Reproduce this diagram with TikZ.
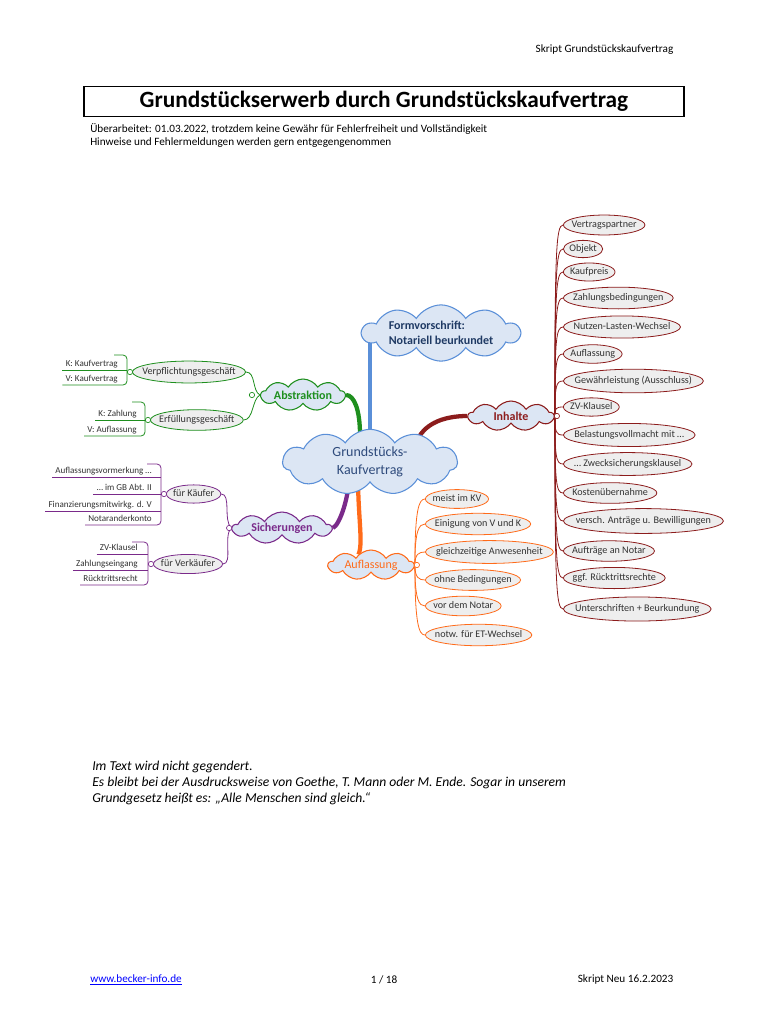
\documentclass[tikz,border=0pt]{standalone}
\usepackage{fontspec}
\setmainfont{Carlito}
\usetikzlibrary{shapes.geometric, shapes.symbols, positioning, calc, backgrounds}

\definecolor{cloudfill}{HTML}{DCE6F4}
\definecolor{leaffill}{HTML}{EEEEEE}
\definecolor{mmblue}{HTML}{5A8FD8}
\definecolor{mmnavy}{HTML}{1F3A64}
\definecolor{mmslate}{HTML}{2F4B7C}
\definecolor{mmgreen}{HTML}{1E8F1E}
\definecolor{mmred}{HTML}{8C1C1C}
\definecolor{mmpurple}{HTML}{7A2A8A}
\definecolor{mmorange}{HTML}{FF6B1A}
\definecolor{mmtext}{HTML}{333333}
\definecolor{linkblue}{HTML}{0000FF}

\newcommand\mmleaf[4]{%
  \path node[leaftxt] (#1m) {\phantom{#4}};
  \begin{scope}[on background layer]
    \path let \p1=($(#1m.east)-(#1m.west)$) in
      node[leafell=#2, anchor=west, minimum width={1.12*\x1+6pt}, minimum height={0.07*\x1+11.5pt}] (#1) at #3 {};
  \end{scope}
  \node[leaftxt] (#1t) at (#1) {#4};}

\begin{document}
\begin{tikzpicture}[
    x=0.75pt, y=-0.75pt,
    cloudy/.style={cloud, cloud puffs=9, cloud puff arc=115, cloud ignores aspect, draw=#1, text=#1, fill=cloudfill, line width=0.8pt, inner sep=0pt, font=\fontsize{9}{11}\selectfont\bfseries},
    leaftxt/.style={inner sep=0pt, text height=5.6pt, text depth=1.7pt, text=mmtext, font=\fontsize{7.6}{9}\selectfont},
    leafell/.style={ellipse, draw=#1, fill=leaffill, line width=0.6pt, inner sep=0pt},
    leaf/.style={anchor=south east, inner xsep=2.25pt, inner ysep=0.8pt, text depth=1.7pt, text=mmtext, font=\fontsize{6.8}{8}\selectfont},
    knob/.style={circle, draw=#1, fill=white, line width=0.5pt, inner sep=0pt, minimum size=4pt},
    branch/.style={draw=#1, line width=0.6pt},
    trunk/.style={draw=#1, line width=3.2pt},
]
\begin{scope}[on background layer]
\fill[white] (0,0) rectangle (768,1024);
\end{scope}
\useasboundingbox (0,0) rectangle (768,1024);

\node[anchor=east, font=\fontsize{8.4}{10}\selectfont] (head) at (678,50) {Skript Grundstückskaufvertrag};
\node[draw, line width=0.9pt, minimum width=450pt, minimum height=21.75pt, font=\fontsize{17.5}{20}\selectfont\bfseries] (title) at (384,101.5) {Grundstückserwerb durch Grundstückskaufvertrag};
\node[anchor=west, align=left, inner sep=0pt, font=\fontsize{8.4}{9.75}\selectfont] (note) at (90,135.5) {Überarbeitet: 01.03.2022, trotzdem keine Gewähr für Fehlerfreiheit und Vollständigkeit\\Hinweise und Fehlermeldungen werden gern entgegengenommen};

\node[cloudy=mmblue, text=mmslate, font=\fontsize{10.5}{13}\selectfont, align=center, cloud puffs=11, minimum width=131pt, minimum height=49pt] (kv) at (370,462) {Grundstücks-\\Kaufvertrag};
\node[cloudy=mmblue, text=mmnavy, align=left, cloud puffs=10, minimum width=118pt, minimum height=42pt] (form) at (441,333) {Formvorschrift:\\Notariell beurkundet};
\node[cloudy=mmgreen, minimum width=63pt, minimum height=24pt] (abs) at (303,395) {Abstraktion};
\node[cloudy=mmred, minimum width=64pt, minimum height=22.5pt] (inh) at (511,416) {Inhalte};
\node[cloudy=mmpurple, minimum width=74pt, minimum height=24pt] (sich) at (282,528) {Sicherungen};
\node[cloudy=mmorange, font=\fontsize{9}{11}\selectfont, minimum width=64pt, minimum height=22.5pt] (aufl) at (371,565) {Auflassung};

\begin{scope}[on background layer]
\draw[trunk=mmblue] (kv.north) -- (kv.north |- form.center);
\draw[trunk=mmgreen] ($(kv.north)+(-10,6)$) .. controls +(0,-25) and +(8,0) .. (abs.east);
\draw[trunk=mmred] ($(kv.north)+(48,10)$) .. controls +(8,-16) and +(-22,0) .. (inh.west);
\draw[trunk=mmpurple] ($(kv.south)+(-21,-6)$) .. controls +(0,20) and +(7,-3) .. (sich.east);
\draw[trunk=mmorange] ($(kv.south)+(-12,-6)$) .. controls +(0,40) and +(5,-10) .. (aufl.140);
\end{scope}

\mmleaf{vp}{mmgreen}{(132,372)}{Verpflichtungsgeschäft}
\mmleaf{ef}{mmgreen}{(150,420)}{Erfüllungsgeschäft}
\mmleaf{fk}{mmpurple}{(166,494)}{für Käufer}
\mmleaf{fv}{mmpurple}{(153,564)}{für Verkäufer}

\draw[branch=mmgreen] (abs.west) .. controls +(-8,-4) and +(10,0) .. (vp.east);
\draw[branch=mmgreen] (abs.west) .. controls +(-8,4) and +(10,0) .. (ef.east);
\draw[branch=mmpurple] (sich.west) .. controls +(-8,-8) and +(10,0) .. (fk.east);
\draw[branch=mmpurple] (sich.west) .. controls +(-8,8) and +(10,0) .. (fv.east);

\node[knob=mmgreen] (absk) at ($(abs.west)+(-8,0)$) {};
\node[knob=mmpurple] (sichk) at ($(sich.west)+(-2,0)$) {};
\node[knob=mmgreen] (vpk) at ($(vp.west)+(-2,0)$) {};
\node[knob=mmgreen] (efk) at ($(ef.west)+(-2,0)$) {};
\node[knob=mmpurple] (fkk) at ($(fk.west)+(-2,0)$) {};
\node[knob=mmpurple] (fvk) at ($(fv.west)+(-2,0)$) {};

\foreach \nm/\yy/\tx in {vpa/370/K: Kaufvertrag, vpb/385/V: Kaufvertrag}
  \node[leaf] (\nm) at (121,\yy) {\tx};
\draw[branch=mmgreen, rounded corners=3] (114,355) -| (vpk.west) |- (vpb.south west);
\draw[branch=mmgreen] (vpa.south west) -- (vpa.south -| vpk.west);

\foreach \nm/\yy/\tx in {efa/420/K: Zahlung, efb/436/V: Auflassung}
  \node[leaf] (\nm) at (140,\yy) {\tx};
\draw[branch=mmgreen, rounded corners=3] (132,402) -| (efk.west) |- (efb.south west);
\draw[branch=mmgreen] (efa.south west) -- (efa.south -| efk.west);

\foreach \nm/\yy/\tx in {fka/477/Auflassungsvormerkung …, fkb/494/… im GB Abt. II, fkc/511/Finanzierungsmitwirkg. d. V, fkd/525/Notaranderkonto}
  \node[leaf] (\nm) at (155,\yy) {\tx};
\draw[branch=mmpurple, rounded corners=3] (147,464) -| (fkk.west) |- (fkd.south west);
\foreach \nm in {fka,fkb,fkc}
  \draw[branch=mmpurple] (\nm.south west) -- (\nm.south -| fkk.west);

\foreach \nm/\yy/\tx in {fva/554/ZV-Klausel, fvb/570/Zahlungseingang, fvc/585/Rücktrittsrecht}
  \node[leaf] (\nm) at (141,\yy) {\tx};
\draw[branch=mmpurple, rounded corners=3] (132,542) -| (fvk.west) |- (fvc.south west);
\foreach \nm in {fva,fvb}
  \draw[branch=mmpurple] (\nm.south west) -- (\nm.south -| fvk.west);

\foreach \nm/\yy/\tx [evaluate=\yy as \dy using 0.85*(\yy-416)] in {i1/225/Vertragspartner, i2/249/Objekt, i3/272/Kaufpreis, i4/298/Zahlungsbedingungen, i5/327/Nutzen-Lasten-Wechsel, i6/354/Auflassung, i7/381/Gewährleistung (Ausschluss), i8/407/ZV-Klausel, i9/435/Belastungsvollmacht mit …, i10/464/… Zwecksicherungsklausel, i11/493/Kostenübernahme, i12/521/versch. Anträge u. Bewilligungen, i13/551/Aufträge an Notar, i14/578/ggf. Rücktrittsrechte, i15/609/Unterschriften + Beurkundung} {
  \mmleaf{\nm}{mmred}{(563,\yy)}{\tx}
  \draw[branch=mmred] (inh.east) .. controls +(0,\dy) and +(-7,0) .. (\nm.west);
}
\node[knob=mmred] (inhk) at ($(inh.east)+(2,0)$) {};

\foreach \nm/\yy/\tx [evaluate=\yy as \dy using 0.85*(\yy-565)] in {a1/499/meist im KV, a2/524/Einigung von V und K, a3/552/gleichzeitige Anwesenheit, a4/580/ohne Bedingungen, a5/606/vor dem Notar, a6/635/notw. für ET-Wechsel} {
  \mmleaf{\nm}{mmorange}{(425,\yy)}{\tx}
  \draw[branch=mmorange] (aufl.east) .. controls +(0,\dy) and +(-6,0) .. (\nm.west);
}
\node[knob=mmorange] (auflk) at ($(aufl.east)+(2,0)$) {};

\node[anchor=west, align=left, inner sep=0pt, font=\fontsize{10.2}{12}\selectfont\itshape] (remark) at (92,783) {Im Text wird nicht gegendert.\\Es bleibt bei der Ausdrucksweise von Goethe, T. Mann oder M. Ende. Sogar in unserem\\Grundgesetz heißt es: „Alle Menschen sind gleich.“};

\node[anchor=west, inner sep=0pt, text=linkblue, font=\fontsize{8.4}{10}\selectfont] (url) at (90,980) {\underline{www.becker-info.de}};
\node[font=\fontsize{8.4}{10}\selectfont] (page) at (384,980) {1 / 18};
\node[anchor=east, font=\fontsize{8.4}{10}\selectfont] (stand) at (678,980) {Skript Neu 16.2.2023};

\end{tikzpicture}
\end{document}
